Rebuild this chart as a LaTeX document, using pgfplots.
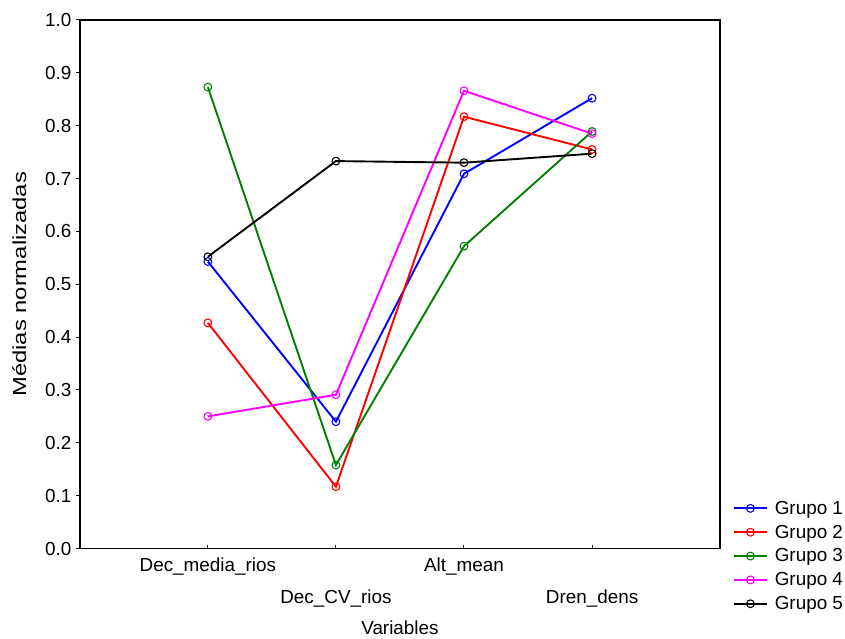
\documentclass[border=0pt]{standalone}
\usepackage{pgfplots}
\pgfplotsset{compat=1.18}
\usepackage{fontspec}
\setmainfont{Liberation Sans}
\definecolor{dgreen}{RGB}{0,128,0}
\definecolor{mag}{RGB}{255,0,255}
\definecolor{pblue}{RGB}{0,0,255}
\definecolor{pred}{RGB}{255,0,0}
\begin{document}
\begin{tikzpicture}
\begin{axis}[
  scale only axis,
  width=642bp, height=530bp,
  xmin=-1, xmax=4, ymin=0, ymax=1,
  xtick={0,1,2,3},
  xticklabels={Dec\_media\_rios,{\strut\\Dec\_CV\_rios},Alt\_mean,{\strut\\Dren\_dens}},
  xticklabel style={align=center, font=\fontsize{19}{27}\selectfont, yshift=-2bp},
  ytick={0,0.1,...,1.0},
  yticklabel style={font=\fontsize{19}{19}\selectfont, /pgf/number format/fixed, /pgf/number format/fixed zerofill, /pgf/number format/precision=1, xshift=-1bp},
  /pgf/number format/assume math mode=true,
  tick align=outside,
  xtick pos=bottom, ytick pos=left,
  major tick length=4bp,
  tick style={black, line width=1bp},
  xtick style={yshift=4bp},
  axis line style={line width=1.6bp},
  xlabel={Variables},
  ylabel={\scalebox{1.26}[1]{Médias normalizadas}},
  xlabel style={font=\fontsize{19}{19}\selectfont, yshift=-7bp},
  ylabel style={font=\fontsize{19}{19}\selectfont, yshift=12bp},
  legend style={at={(1.02,0.094)}, anchor=north west, draw=none, fill=none,
    font=\fontsize{19}{19}\selectfont, row sep=5.2bp, inner sep=0pt},
  legend cell align=left,
  legend image code/.code={\draw[mark repeat=2,mark phase=2] plot coordinates {(0cm,0cm) (0.58cm,0cm) (1.16cm,0cm)};},
  pl/.style={line width=1.9bp, mark=o, mark size=3.9bp, mark options={fill=white, line width=1.1bp, solid}},
]
\addplot[pl, pblue] coordinates {(0,0.543) (1,0.240) (2,0.709) (3,0.852)};
\addlegendentry{\hspace{5bp}Grupo 1}
\addplot[pl, pred] coordinates {(0,0.427) (1,0.117) (2,0.817) (3,0.755)};
\addlegendentry{\hspace{5bp}Grupo 2}
\addplot[pl, dgreen] coordinates {(0,0.873) (1,0.158) (2,0.572) (3,0.789)};
\addlegendentry{\hspace{5bp}Grupo 3}
\addplot[pl, mag] coordinates {(0,0.250) (1,0.291) (2,0.866) (3,0.785)};
\addlegendentry{\hspace{5bp}Grupo 4}
\addplot[pl, black] coordinates {(0,0.552) (1,0.733) (2,0.730) (3,0.747)};
\addlegendentry{\hspace{5bp}Grupo 5}
\end{axis}
\path ([shift={(-80bp,-90bp)}]current axis.south west) rectangle ([shift={(123bp,20bp)}]current axis.north east);
\end{tikzpicture}
\end{document}
